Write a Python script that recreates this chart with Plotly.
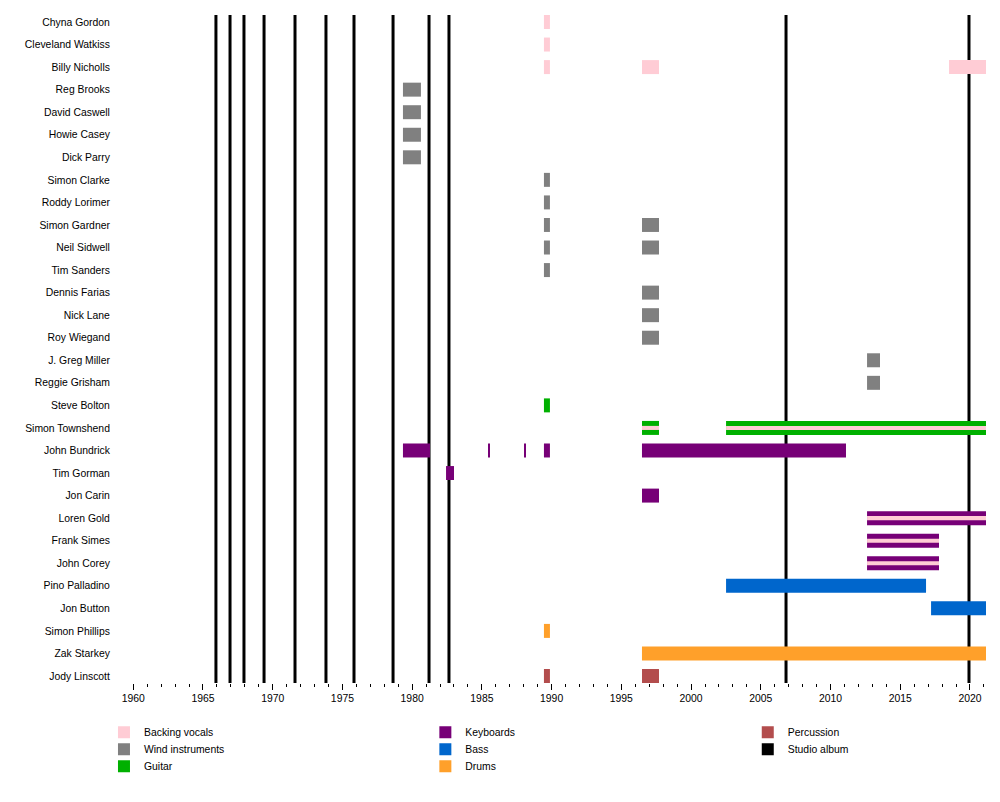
import plotly.graph_objects as go

# ---------------- data ----------------
members = [
    "Chyna Gordon", "Cleveland Watkiss", "Billy Nicholls", "Reg Brooks",
    "David Caswell", "Howie Casey", "Dick Parry", "Simon Clarke",
    "Roddy Lorimer", "Simon Gardner", "Neil Sidwell", "Tim Sanders",
    "Dennis Farias", "Nick Lane", "Roy Wiegand", "J. Greg Miller",
    "Reggie Grisham", "Steve Bolton", "Simon Townshend", "John Bundrick",
    "Tim Gorman", "Jon Carin", "Loren Gold", "Frank Simes", "John Corey",
    "Pino Palladino", "Jon Button", "Simon Phillips", "Zak Starkey",
    "Jody Linscott",
]

END = 2021.15

backing_vocals = [
    ("Chyna Gordon", 1989.45, 1989.88),
    ("Cleveland Watkiss", 1989.45, 1989.88),
    ("Billy Nicholls", 1989.45, 1989.88),
    ("Billy Nicholls", 1996.48, 1997.70),
    ("Billy Nicholls", 2018.50, END),
]
wind_instruments = [
    ("Reg Brooks", 1979.34, 1980.63),
    ("David Caswell", 1979.34, 1980.63),
    ("Howie Casey", 1979.34, 1980.63),
    ("Dick Parry", 1979.34, 1980.63),
    ("Simon Clarke", 1989.45, 1989.88),
    ("Roddy Lorimer", 1989.45, 1989.88),
    ("Simon Gardner", 1989.45, 1989.88),
    ("Simon Gardner", 1996.48, 1997.70),
    ("Neil Sidwell", 1989.45, 1989.88),
    ("Neil Sidwell", 1996.48, 1997.70),
    ("Tim Sanders", 1989.45, 1989.88),
    ("Dennis Farias", 1996.48, 1997.70),
    ("Nick Lane", 1996.48, 1997.70),
    ("Roy Wiegand", 1996.48, 1997.70),
    ("J. Greg Miller", 2012.62, 2013.55),
    ("Reggie Grisham", 2012.62, 2013.55),
]
guitar = [
    ("Steve Bolton", 1989.45, 1989.88),
    ("Simon Townshend", 1996.48, 1997.70),
    ("Simon Townshend", 2002.51, END),
]
keyboards = [
    ("John Bundrick", 1979.34, 1981.28),
    ("John Bundrick", 1985.49, 1985.55),
    ("John Bundrick", 1988.07, 1988.13),
    ("John Bundrick", 1989.45, 1989.88),
    ("John Bundrick", 1996.48, 2011.11),
    ("Tim Gorman", 1982.43, 1983.00),
    ("Jon Carin", 1996.48, 1997.70),
    ("Loren Gold", 2012.62, END),
    ("Frank Simes", 2012.62, 2017.78),
    ("John Corey", 2012.62, 2017.78),
]
bass = [
    ("Pino Palladino", 2002.51, 2016.85),
    ("Jon Button", 2017.21, END),
]
drums = [
    ("Simon Phillips", 1989.45, 1989.88),
    ("Zak Starkey", 1996.48, END),
]
percussion = [
    ("Jody Linscott", 1989.45, 1989.88),
    ("Jody Linscott", 1996.48, 1997.70),
]
# secondary role (backing vocals) shown as a thin stripe inside the main bar
backing_vocals_secondary = [
    ("Simon Townshend", 1996.48, 1997.70),
    ("Simon Townshend", 2002.51, END),
    ("Loren Gold", 2012.62, END),
    ("Frank Simes", 2012.62, 2017.78),
    ("John Corey", 2012.62, 2017.78),
]
studio_albums = [1965.93, 1966.94, 1967.94, 1969.38, 1971.60, 1973.82,
                 1975.83, 1978.63, 1981.21, 1982.64, 2006.81, 2019.93]

X_RANGE = [1959.05, END]
tick_years = list(range(1960, 2021, 5))

# ---------------- styling ----------------
C_BV = "#ffccd5"
C_WIND = "#808080"
C_GUITAR = "#00b000"
C_KEYS = "#770077"
C_BASS = "#0066cc"
C_DRUMS = "#ffa02a"
C_PERC = "#b34d4d"
C_ALBUM = "#000000"

FONT = "Liberation Sans, Arial, sans-serif"
FS = 10.4
BAR_W = 0.62
STRIPE_W = 0.18
Y_TOP = -0.31
Y_BOT = len(members) - 1 + 0.31
PLOT_H = 668.0

row = {m: i for i, m in enumerate(members)}

fig = go.Figure()


def add_role(entries, name, color, legend, width=BAR_W, showlegend=True):
    fig.add_trace(go.Bar(
        orientation="h",
        y=[row[e[0]] for e in entries],
        base=[e[1] for e in entries],
        x=[e[2] - e[1] for e in entries],
        width=width,
        marker=dict(color=color, line=dict(width=0)),
        name=name,
        legend=legend,
        showlegend=showlegend,
        hoverinfo="skip",
    ))


# album lines (behind bars)
ax, ay = [], []
for d in studio_albums:
    ax += [d, d, None]
    ay += [Y_TOP, Y_BOT, None]
fig.add_trace(go.Scatter(x=ax, y=ay, mode="lines",
                         line=dict(color=C_ALBUM, width=3),
                         showlegend=False, hoverinfo="skip", zorder=-1))

add_role(backing_vocals, "Backing vocals", C_BV, "legend")
add_role(wind_instruments, "Wind instruments", C_WIND, "legend2")
add_role(guitar, "Guitar", C_GUITAR, "legend3")
add_role(keyboards, "Keyboards", C_KEYS, "legend4")
add_role(bass, "Bass", C_BASS, "legend5")
add_role(drums, "Drums", C_DRUMS, "legend6")
add_role(percussion, "Percussion", C_PERC, "legend7")
add_role(backing_vocals_secondary, "Backing vocals", C_BV, "legend",
         width=STRIPE_W, showlegend=False)
# legend entry for the studio album lines
fig.add_trace(go.Bar(orientation="h", x=[None], y=[None], name="Studio album",
                     marker=dict(color=C_ALBUM, line=dict(width=0)),
                     legend="legend8", hoverinfo="skip"))

# legend layout: 3 columns (x in paper units), rows 17 px apart
col_x = [-0.0185, 0.3526, 0.7249]
y0 = -0.052
dy = 17.0 / PLOT_H
slots = [(0, 0), (0, 1), (0, 2), (1, 0), (1, 1), (1, 2), (2, 0), (2, 1)]


def leg(c, r):
    return dict(orientation="v", yanchor="top", y=y0 - r * dy,
                xanchor="left", x=col_x[c],
                font=dict(family=FONT, size=FS, color="#000"),
                bgcolor="rgba(0,0,0,0)", borderwidth=0,
                itemclick=False, itemdoubleclick=False)


legends = {}
for i, (c, r) in enumerate(slots):
    key = "legend" if i == 0 else f"legend{i + 1}"
    legends[key] = leg(c, r)

fig.update_layout(
    width=1000, height=802,
    margin=dict(l=120, r=14, t=15, b=119),
    paper_bgcolor="white", plot_bgcolor="white",
    barmode="overlay",
    font=dict(family=FONT, size=FS, color="#000"),
    hovermode=False,
    xaxis=dict(
        range=X_RANGE, showgrid=False, zeroline=False,
        showline=True, linecolor="black", linewidth=1,
        tickmode="array", tickvals=tick_years,
        ticktext=[str(y) for y in tick_years],
        ticks="outside", ticklen=6, tickwidth=1, tickcolor="black",
        minor=dict(ticks="outside", ticklen=3, tickwidth=1,
                   tickcolor="black", dtick=1, tick0=1960, showgrid=False),
        tickfont=dict(family=FONT, size=FS, color="#000"),
        fixedrange=True,
    ),
    yaxis=dict(
        range=[Y_BOT, Y_TOP], showgrid=False, zeroline=False,
        showline=True, linecolor="black", linewidth=1,
        tickmode="array", tickvals=list(range(len(members))),
        ticktext=members, ticks="", ticklabelstandoff=7,
        tickfont=dict(family=FONT, size=FS, color="#000"),
        fixedrange=True,
    ),
    **legends,
)

fig.write_html("out.html", config={"displayModeBar": False},
               post_script="document.body.style.margin='0';"
                           "document.body.style.overflow='hidden';")
